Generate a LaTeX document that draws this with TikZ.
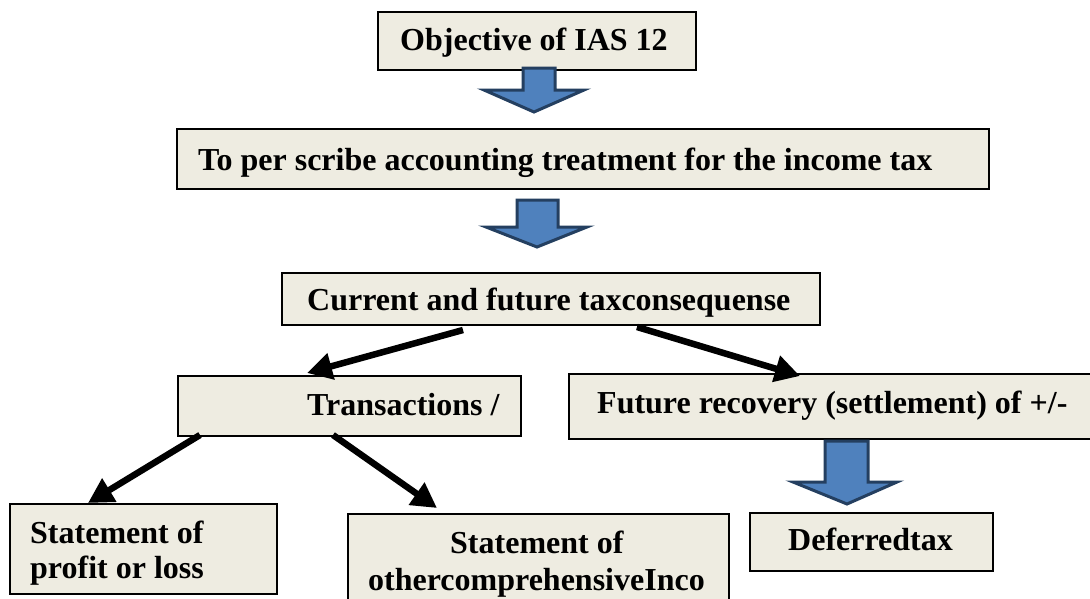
\documentclass[tikz,border=0pt]{standalone}
\usepackage{fontspec}
\setmainfont{Liberation Serif}
\usetikzlibrary{arrows.meta}
\definecolor{boxfill}{HTML}{EEECE1}
\definecolor{arrfill}{HTML}{4F81BD}
\definecolor{arrline}{HTML}{243F60}
\tikzset{
  box/.style={draw=black, line width=1.6pt, fill=boxfill, rectangle, inner sep=0pt, anchor=north west},
  txt/.style={inner sep=0pt, anchor=base west, font=\fontsize{32}{35}\selectfont\bfseries},
  blockarrow/.style={fill=arrfill, draw=arrline, line width=3pt, line join=miter},
  thickarrow/.style={line width=6.5pt, -{Triangle[length=25pt,width=26pt]}}
}
\begin{document}
\begin{tikzpicture}[x=1pt,y=-1pt]
\clip (0,0) rectangle (1090,598);
\fill[white] (0,0) rectangle (1090,598);
% boxes
\node[box, minimum width=318pt, minimum height=58pt] (b1) at (377,11) {};
\node[box, minimum width=812pt, minimum height=60pt] (b2) at (176,128) {};
\node[box, minimum width=538pt, minimum height=52pt] (b3) at (281,272) {};
\node[box, minimum width=343pt, minimum height=60pt] (b4) at (177,375) {};
\node[box, minimum width=530pt, minimum height=65pt] (b5) at (568,373) {};
\node[box, minimum width=243pt, minimum height=58pt] (b6) at (749,512) {};
\node[box, minimum width=267pt, minimum height=90pt] (b7) at (9,503) {};
\node[box, minimum width=381pt, minimum height=100pt] (b8) at (347,513) {};
% texts
\node[txt] (t1) at (400,50) {Objective of IAS 12};
\node[txt] (t2) at (198,170) {To per scribe accounting treatment for the income tax};
\node[txt] (t3) at (307,310) {Current and future taxconsequense};
\node[txt] (t4) at (307,415) {Transactions /};
\node[txt] (t5) at (597,413) {Future recovery (settlement) of +/-};
\node[txt] (t6) at (788,550) {Deferredtax};
\node[txt] (t7a) at (30,543) {Statement of};
\node[txt] (t7b) at (30,578) {profit or loss};
\node[txt] (t8a) at (450,553) {Statement of};
\node[txt] (t8b) at (368,590) {othercomprehensiveInco};
% block arrows
\draw[blockarrow] (523,68) -- (555,68) -- (555,90) -- (584,90) -- (534,112) -- (484,90) -- (523,90) -- cycle;
\draw[blockarrow] (517,200) -- (558,200) -- (558,227) -- (587,227) -- (537,247) -- (486,227) -- (517,227) -- cycle;
\draw[blockarrow] (825,441) -- (868,441) -- (868,482) -- (897,482) -- (847,504) -- (793,482) -- (825,482) -- cycle;
% connectors
\coordinate (a1s) at (463,330);
\coordinate (a1e) at (307,373);
\coordinate (a2s) at (637,327);
\coordinate (a2e) at (800,376);
\coordinate (a3s) at (200,435);
\coordinate (a3e) at (88,503);
\coordinate (a4s) at (333,435);
\coordinate (a4e) at (437,508);
\draw[thickarrow] (a1s) -- (a1e);
\draw[thickarrow] (a2s) -- (a2e);
\draw[thickarrow] (a3s) -- (a3e);
\draw[thickarrow] (a4s) -- (a4e);
\end{tikzpicture}
\end{document}
